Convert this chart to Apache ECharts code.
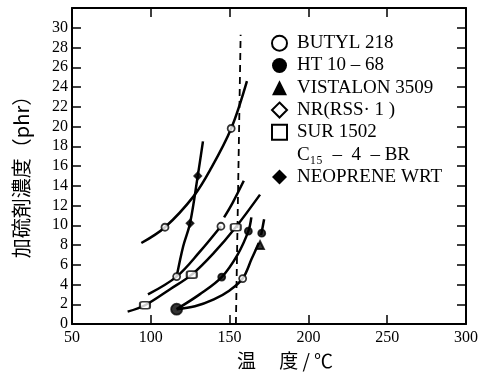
<!DOCTYPE html>
<html>
<head>
<meta charset="utf-8">
<script src="https://cdn.jsdelivr.net/npm/echarts@6/dist/echarts.min.js"></script>
<style>
  html, body { margin: 0; background: #fff; }
  #chart { width: 487px; height: 378px; }
</style>
</head>
<body>
<div id="chart"></div>
<script>
/*----------------------------- data: [温度, 濃度] --------------------*/
var legendNames = ['BUTYL 218', 'HT 10 – 68', 'VISTALON 3509', 'NR(RSS· 1 )', 'SUR 1502', 'C₁₅  –  4  – BR', 'NEOPRENE WRT'];
var legendIcons = ['emptyCircle', 'circle', 'triangle', 'emptyDiamond', 'emptyRect', 'rect', 'diamond'];

var butylLine = [[94, 8.2], [109, 9.8], [127, 12.9], [138, 15.7], [151, 19.8], [161, 24.6]];
var butylPts = [[109, 9.8], [151, 19.8]];
var neoLine = [[116.4, 4.8], [120.6, 7.9], [124.9, 10.2], [129.8, 15.0], [133.1, 18.5]];
var neoPts = [[124.9, 10.2], [129.8, 15.0]];
var nrLine = [[98.2, 3.0], [116.4, 4.8], [131, 7.3], [144.5, 9.9]];
var nrLine2 = [[146.5, 10.8], [152, 12.3], [159, 14.5]];
var nrPts = [[116.4, 4.8], [144.5, 9.9]];
var surLine = [[85.3, 1.25], [96.3, 1.9], [112, 3.5], [126, 5.0], [140, 7.2], [153.9, 9.8], [169.3, 13.1]];
var surPts = [[96.3, 1.9], [126, 5.0], [153.9, 9.8]];
var htLine = [[116.4, 1.5], [131, 3.0], [145, 4.75], [155, 7.0], [161.9, 9.4], [163.8, 10.8]];
var htPts = [[145, 4.75], [161.9, 9.4]];
var htStart = [[116.4, 1.5]];
var vistaLine = [[116.4, 1.5], [128, 1.8], [140, 2.5], [150, 3.4], [158.3, 4.6], [164, 6.6], [168.5, 8.2]];
var vistaCircle = [[158.3, 4.6]];
var vistaPts = [[169.3, 8.0]];
var shortLine = [[170.0, 9.0], [171.9, 10.6]];
var shortPts = [[170.4, 9.2]];
var limitLine = [[154, 0], [157, 29.3]];

var serif = "'Liberation Serif', 'DejaVu Serif', serif";
var cjk = "'Noto Sans CJK JP', sans-serif";

(function () {
  var myChart = echarts.init(document.getElementById('chart'), null, { renderer: 'canvas' });

  function curve(name, data) {
    return {
      type: 'line', name: name, data: data, smooth: 0.35, showSymbol: false, silent: true,
      itemStyle: { color: '#000' },
      lineStyle: { color: '#000', width: 2.5 }, z: 2
    };
  }
  function marks(name, data, symbol, size, filled) {
    return {
      type: 'scatter', name: name, data: data, symbol: symbol, symbolSize: size, silent: true,
      itemStyle: { color: filled ? '#000' : '#fff', borderColor: '#000', borderWidth: 1.8 }, z: 3
    };
  }
  function frameAxis(extra) {
    var base = {
      type: 'value',
      axisLine: { show: true, onZero: false, lineStyle: { color: '#000', width: 2 } },
      axisTick: { show: true, inside: true, length: 9, lineStyle: { color: '#000', width: 1.5 } },
      splitLine: { show: false }
    };
    return Object.assign(base, extra);
  }

  var legendData = legendNames.map(function (n, i) {
    var item = { name: n, icon: legendIcons[i] };
    if (i === 5) item.itemStyle = { opacity: 0 };
    return item;
  });

  var option = {
    backgroundColor: '#fff',
    animation: false,
    grid: { left: 72, right: 21, top: 8, bottom: 54 },
    legend: {
      data: legendData,
      orient: 'vertical',
      left: 271,
      top: 32,
      padding: 0,
      itemWidth: 15,
      itemHeight: 15,
      itemGap: 0,
      selectedMode: false,
      textStyle: { fontFamily: serif, fontSize: 19, color: '#000', lineHeight: 22.3, padding: [0, 0, 0, 5] }
    },
    xAxis: [
      frameAxis({
        position: 'bottom', min: 50, max: 300, interval: 50,
        axisLabel: { fontFamily: serif, fontSize: 16, color: '#000', margin: 6 },
        name: '温　 度 / ℃', nameLocation: 'middle', nameGap: 26,
        nameTextStyle: { fontFamily: cjk, fontSize: 19, color: '#000', padding: [0, 0, 0, 32] }
      }),
      frameAxis({ position: 'top', min: 50, max: 300, interval: 50, axisLabel: { show: false } })
    ],
    yAxis: [
      frameAxis({
        position: 'left', min: 0, max: 32, interval: 2,
        axisLabel: {
          fontFamily: serif, fontSize: 16, color: '#000', margin: 4,
          formatter: function (v) { return v > 30 ? '' : v; }
        },
        name: '加硫剤濃度（phr）', nameLocation: 'middle', nameGap: 41,
        nameTextStyle: { fontFamily: cjk, fontSize: 20, color: '#000', padding: [0, 12, 0, 0] }
      }),
      frameAxis({ position: 'right', min: 0, max: 32, interval: 2, axisLabel: { show: false } })
    ],
    series: [
      curve(legendNames[0], butylLine),
      marks(legendNames[0], butylPts, 'circle', 7, false),
      curve(legendNames[6], neoLine),
      marks(legendNames[6], neoPts, 'diamond', 7, true),
      curve(legendNames[3], nrLine),
      curve(legendNames[3], nrLine2),
      marks(legendNames[3], nrPts, 'circle', 7, false),
      curve(legendNames[4], surLine),
      marks(legendNames[4], surPts, 'roundRect', [10, 7], false),
      curve(legendNames[1], htLine),
      marks(legendNames[1], htPts, 'circle', 7, true),
      marks(legendNames[1], htStart, 'circle', 11, true),
      curve(legendNames[2], vistaLine),
      marks(legendNames[2], vistaCircle, 'circle', 7, false),
      marks(legendNames[2], vistaPts, 'triangle', 8, true),
      curve(legendNames[2], shortLine),
      marks(legendNames[2], shortPts, 'circle', 7, true),
      { type: 'line', name: legendNames[5], data: [], itemStyle: { color: '#000' } },
      {
        type: 'line', data: limitLine, showSymbol: false, silent: true, z: 1,
        lineStyle: { color: '#000', width: 1.8, type: [7, 5] }
      }
    ]
  };
  myChart.setOption(option);
})();
</script>
</body>
</html>
